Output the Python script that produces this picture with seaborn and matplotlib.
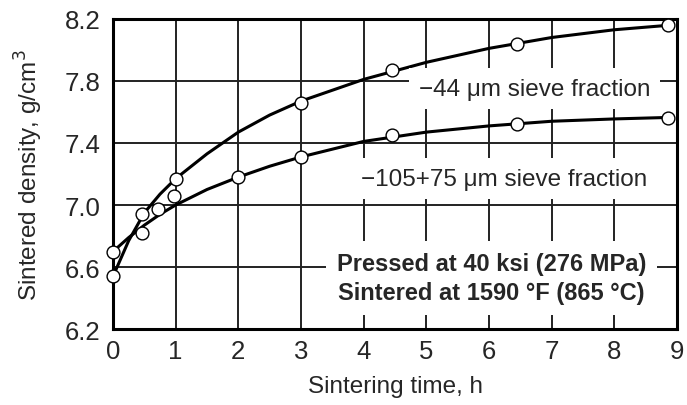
import matplotlib
matplotlib.use("Agg")
import matplotlib.pyplot as plt
import seaborn as sns
import pandas as pd

# measured points
time_44 = [0, 0.46, 1.0, 3.0, 4.45, 6.45, 8.85]
dens_44 = [6.54, 6.94, 7.17, 7.66, 7.87, 8.04, 8.16]
time_105 = [0, 0.46, 0.72, 0.97, 2.0, 3.0, 4.45, 6.45, 8.85]
dens_105 = [6.70, 6.82, 6.975, 7.06, 7.18, 7.31, 7.45, 7.52, 7.56]

# smooth curves
curve_t = [0, 0.25, 0.5, 0.75, 1, 1.5, 2, 2.5, 3, 4, 5, 6, 7, 8, 8.9]
curve_44 = [6.54, 6.77, 6.95, 7.07, 7.17, 7.33, 7.47, 7.58, 7.67, 7.81, 7.92, 8.01, 8.08, 8.13, 8.16]
curve_105 = [6.70, 6.79, 6.87, 6.94, 7.00, 7.10, 7.18, 7.25, 7.31, 7.41, 7.47, 7.51, 7.54, 7.555, 7.565]

x_ticks = [0, 1, 2, 3, 4, 5, 6, 7, 8, 9]
y_ticks = [6.2, 6.6, 7.0, 7.4, 7.8, 8.2]

sns.set_style("white")
plt.rcParams['font.family'] = ['Liberation Sans', 'DejaVu Sans']

fig = plt.figure(figsize=(6.87, 4.06), dpi=100)
ax = fig.add_axes([0.1645, 0.187, 0.821, 0.764])

for t, d in [(curve_t, curve_44), (curve_t, curve_105)]:
    sns.lineplot(x=t, y=d, ax=ax, color='black', linewidth=2.2, zorder=3)

pts = pd.DataFrame({'t': time_44 + time_105, 'd': dens_44 + dens_105})
sns.scatterplot(data=pts, x='t', y='d', ax=ax, s=85, color='white',
                edgecolor='black', linewidth=1.0, zorder=5, clip_on=False)

ax.set_xlim(0, 9)
ax.set_ylim(6.2, 8.2)
ax.set_xticks(x_ticks)
ax.set_yticks(y_ticks)
ax.set_yticklabels([f"{v:.1f}" for v in y_ticks])
ax.tick_params(axis='both', length=0, labelsize=18.5)
ax.tick_params(axis='y', pad=9)
ax.tick_params(axis='x', pad=7)
ax.grid(True, color='#222222', linewidth=1.4, zorder=1)
ax.set_axisbelow(True)
for s in ax.spines.values():
    s.set_linewidth(2.2)
    s.set_color('black')

ax.set_xlabel("Sintering time, h", fontsize=17.5, labelpad=9)
ax.set_ylabel("Sintered density, g/cm$^3$", fontsize=17.5, labelpad=14)

box = dict(facecolor='white', edgecolor='none', pad=7)
ax.text(6.73, 7.75, "\u221244 \u03bcm sieve fraction", fontsize=17.5,
        ha='center', va='center', bbox=box, zorder=4)
ax.text(6.24, 7.17, "\u2212105+75 \u03bcm sieve fraction", fontsize=17.5,
        ha='center', va='center', bbox=box, zorder=4)
ax.text(6.04, 6.53, "Pressed at 40 ksi (276 MPa)\nSintered at 1590 \u00b0F (865 \u00b0C)",
        fontsize=17, fontweight='bold', ha='center', va='center',
        linespacing=1.3, bbox=dict(facecolor='white', edgecolor='none', pad=8), zorder=4)

fig.savefig("out.png", dpi=100)
